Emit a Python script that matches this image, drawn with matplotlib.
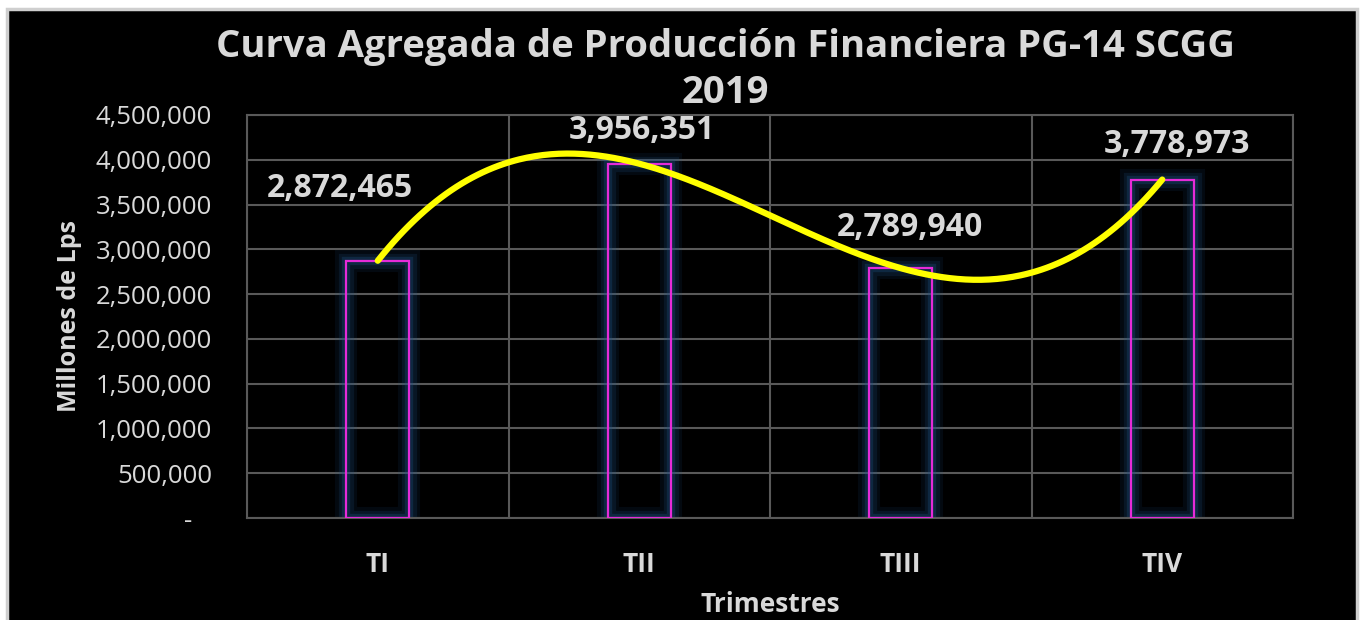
import numpy as np
import matplotlib
matplotlib.use('Agg')
import matplotlib.pyplot as plt
from matplotlib.patches import Rectangle
from matplotlib.ticker import FuncFormatter, MultipleLocator

# datos
trimestres = ['TI', 'TII', 'TIII', 'TIV']
produccion = [2872465, 3956351, 2789940, 3778973]
titulo = 'Curva Agregada de Producción Financiera PG-14 SCGG\n2019'

# desplazamiento de etiquetas (pixeles) como en el original
label_dx = [-38, 3, 9, 15]
label_dy = [72, 33, 41, 35]

gris = '#d9d9d9'
plt.rcParams['font.family'] = ['Open Sans', 'DejaVu Sans']


def formato(v, pos):
    if v == 0:
        return '-   '
    return f'{v:,.0f}'


def main():
    fig = plt.figure(figsize=(13.62, 6.2), dpi=100, facecolor='white')
    fondo = Rectangle((7 / 1362, -0.01), 1350 / 1362, (611 / 620) + 0.01,
                      transform=fig.transFigure, facecolor='black',
                      edgecolor='#cfcfcf', linewidth=2.5, zorder=-10)
    fig.add_artist(fondo)

    ax = fig.add_axes([247 / 1362, 102 / 620, 1046 / 1362, 403 / 620])
    ax.set_facecolor('black')

    x = np.arange(1, len(trimestres) + 1)

    # brillo azul alrededor de las barras
    for lw, a in [(16, 0.12), (11, 0.18), (6, 0.3)]:
        ax.bar(x, produccion, width=0.24, facecolor='none',
               edgecolor=(0.12, 0.32, 0.52, a), linewidth=lw, zorder=2)
    ax.bar(x, produccion, width=0.24, facecolor='none',
           edgecolor='#e52bd8', linewidth=1.6, zorder=3)

    # linea de tendencia polinomica (orden 3)
    coef = np.polyfit(x, produccion, 3)
    xs = np.linspace(x[0], x[-1], 300)
    ax.plot(xs, np.polyval(coef, xs), color='#ffff00', linewidth=4.5,
            solid_capstyle='round', zorder=4)

    for i, v in enumerate(produccion):
        ax.annotate(f'{v:,}', (x[i], v), xytext=(label_dx[i], label_dy[i]),
                    textcoords='offset pixels', ha='center', va='center',
                    fontsize=23, fontweight='bold', color=gris, zorder=5)

    ax.set_xlim(0.5, 4.5)
    ax.set_ylim(0, 4500000)
    ax.yaxis.set_major_locator(MultipleLocator(500000))
    ax.yaxis.set_major_formatter(FuncFormatter(formato))
    ax.set_xticks(x)
    ax.set_xticklabels(trimestres, fontsize=19, fontweight='bold', color=gris)
    ax.set_xticks(np.arange(0.5, 4.6, 1), minor=True)
    ax.tick_params(axis='y', labelsize=18.5, colors=gris, length=0, pad=25)
    ax.tick_params(axis='x', which='both', length=0, pad=24)
    ax.grid(axis='y', color='#595959', linewidth=1.5, zorder=1)
    ax.grid(axis='x', which='minor', color='#595959', linewidth=1.5, zorder=1)
    ax.set_axisbelow(True)
    for s in ax.spines.values():
        s.set_color('#595959')
        s.set_linewidth(1.5)

    ax.set_xlabel('Trimestres', fontsize=19, fontweight='bold', color=gris, labelpad=9)
    ax.set_ylabel('Millones de Lps', fontsize=18, fontweight='bold', color=gris, labelpad=10)

    fig.text(725 / 1362, 1 - 70 / 620, titulo, ha='center', va='center',
             fontsize=27.5, fontweight='bold', color=gris, linespacing=1.3)

    fig.savefig('out.png', dpi=100, facecolor='white')


if __name__ == '__main__':
    main()
